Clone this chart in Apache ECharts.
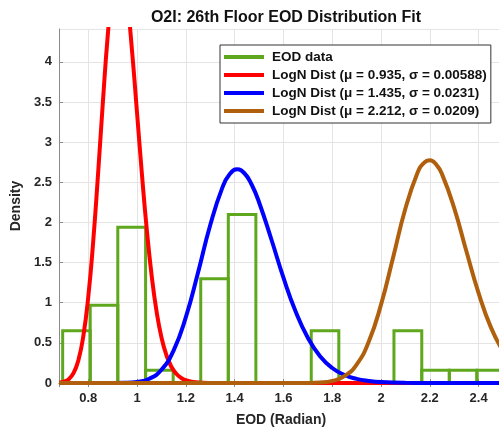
<!DOCTYPE html>
<html>
<head>
<meta charset="utf-8">
<script src="https://cdn.jsdelivr.net/npm/echarts@6/dist/echarts.min.js"></script>
<style>
  html, body { margin: 0; padding: 0; background: #fff; }
  #chart { width: 499px; height: 431px; }
</style>
</head>
<body>
<div id="chart"></div>
<script>
// histogram of EOD data (density), bins
const binEdges = [0.695, 0.808, 0.921, 1.035, 1.148, 1.261, 1.374, 1.487, 1.601, 1.714, 1.827, 1.940, 2.053, 2.167, 2.280, 2.393, 2.506];
const binDensity = [0.65, 0.97, 1.94, 0.16, 0, 1.30, 2.10, 0, 0, 0.65, 0, 0, 0.65, 0.16, 0.16, 0.16];

// fitted lognormal curves
const redX = [0.68, 0.70, 0.72, 0.74, 0.76, 0.78, 0.80, 0.82, 0.84, 0.86, 0.88, 0.90, 0.92, 0.94, 0.96, 0.98, 1.00, 1.02, 1.04, 1.06, 1.08, 1.10, 1.12, 1.14, 1.16, 1.18, 1.20, 1.24, 1.30, 1.40, 2.50];
const redY = [0.004, 0.016, 0.047, 0.125, 0.289, 0.590, 1.073, 1.754, 2.598, 3.504, 4.335, 4.946, 5.232, 5.154, 4.751, 4.115, 3.361, 2.598, 1.907, 1.333, 0.890, 0.569, 0.349, 0.206, 0.118, 0.065, 0.035, 0.009, 0.001, 0, 0];

const blueX = [0.68, 0.90, 0.95, 1.00, 1.05, 1.10, 1.15, 1.20, 1.25, 1.30, 1.35, 1.38, 1.41, 1.44, 1.47, 1.50, 1.55, 1.60, 1.65, 1.70, 1.75, 1.80, 1.85, 1.90, 1.95, 2.00, 2.10, 2.20, 2.50];
const blueY = [0, 0.0003, 0.002, 0.013, 0.053, 0.165, 0.407, 0.820, 1.377, 1.968, 2.437, 2.603, 2.662, 2.613, 2.470, 2.252, 1.794, 1.313, 0.890, 0.563, 0.334, 0.187, 0.100, 0.051, 0.025, 0.011, 0.002, 0.0004, 0];

const brownX = [0.68, 1.60, 1.70, 1.75, 1.80, 1.85, 1.90, 1.95, 2.00, 2.05, 2.10, 2.15, 2.175, 2.20, 2.225, 2.25, 2.30, 2.35, 2.40, 2.45, 2.50];
const brownY = [0, 0, 0.001, 0.006, 0.026, 0.085, 0.230, 0.517, 0.976, 1.570, 2.174, 2.621, 2.739, 2.774, 2.726, 2.602, 2.179, 1.641, 1.120, 0.696, 0.397];

const legendNames = ['EOD data', 'LogN Dist (μ = 0.935, σ = 0.00588)', 'LogN Dist (μ = 1.435, σ = 0.0231)', 'LogN Dist (μ = 2.212, σ = 0.0209)'];

const GREEN = '#5fa81e', RED = '#ff0000', BLUE = '#0000ff', BROWN = '#b0600c';
const FONT = '"Liberation Sans", Arial, sans-serif';
const TXT = '#262626';

const zip = (xs, ys) => xs.map((x, i) => [x, ys[i]]);
const histData = binDensity.map((d, i) => [binEdges[i], binEdges[i + 1], d]);

const chart = echarts.init(document.getElementById('chart'), null, {renderer: 'canvas'});

const option = {
  animation: false,
  backgroundColor: '#fff',
  title: {
    text: 'O2I: 26th Floor EOD Distribution Fit',
    left: 281, top: 5, textAlign: 'center',
    textStyle: {fontFamily: FONT, fontSize: 16, fontWeight: 'bold', color: '#111'}
  },
  legend: {
    orient: 'vertical', left: 220, top: 45,
    padding: [4, 4, 4, 4],
    itemWidth: 40, itemHeight: 4, itemGap: 2,
    icon: 'rect',
    backgroundColor: '#fff', borderColor: '#333', borderWidth: 1,
    textStyle: {fontFamily: FONT, fontSize: 13.5, fontWeight: 'bold', color: '#111', lineHeight: 16, padding: [0, 0, 0, 3]},
    data: legendNames
  },
  grid: {left: 59, top: 29, right: -4, bottom: 48, containLabel: false, outerBoundsMode: 'none'},
  xAxis: [{
    type: 'value', min: 0.68, max: 2.5, splitNumber: 9,
    name: 'EOD (Radian)', nameLocation: 'middle', nameGap: 30,
    nameTextStyle: {fontFamily: FONT, fontSize: 14, fontWeight: 'bold', color: TXT},
    axisLine: {show: true, onZero: false, lineStyle: {color: '#8a8a8a', width: 1}},
    axisTick: {show: true, inside: true, length: 4, lineStyle: {color: '#8a8a8a'}},
    axisLabel: {fontFamily: FONT, fontSize: 13, fontWeight: 'bold', color: TXT, margin: 9, showMinLabel: false, showMaxLabel: false},
    splitLine: {show: true, lineStyle: {color: '#e4e4e4', width: 1}}
  }, {
    type: 'value', position: 'top', min: 0.68, max: 2.5, splitNumber: 9,
    axisLine: {show: true, lineStyle: {color: '#8a8a8a', width: 1}},
    axisTick: {show: true, inside: true, length: 4, lineStyle: {color: '#8a8a8a'}},
    axisLabel: {show: false},
    splitLine: {show: false}
  }],
  yAxis: {
    type: 'value', min: 0, max: 4.41, interval: 0.5,
    name: 'Density', nameLocation: 'middle', nameGap: 30,
    nameTextStyle: {fontFamily: FONT, fontSize: 14, fontWeight: 'bold', color: TXT},
    axisLine: {show: true, lineStyle: {color: '#8a8a8a', width: 1}},
    axisTick: {show: true, inside: true, length: 4, lineStyle: {color: '#8a8a8a'}},
    axisLabel: {fontFamily: FONT, fontSize: 13, fontWeight: 'bold', color: TXT, margin: 7, showMaxLabel: false},
    splitLine: {show: true, lineStyle: {color: '#e4e4e4', width: 1}}
  },
  series: [
    {
      name: legendNames[0], type: 'custom', clip: true, color: GREEN,
      encode: {x: [0, 1], y: 2},
      renderItem: function (params, api) {
        const p0 = api.coord([api.value(0), 0]);
        const p1 = api.coord([api.value(1), api.value(2)]);
        return {
          type: 'rect',
          shape: {x: p0[0], y: p1[1], width: p1[0] - p0[0], height: p0[1] - p1[1]},
          style: {fill: null, stroke: GREEN, lineWidth: 3}
        };
      },
      data: histData
    },
    {name: legendNames[1], type: 'line', data: zip(redX, redY), color: RED, showSymbol: false, smooth: true, lineStyle: {width: 4, color: RED}},
    {name: legendNames[2], type: 'line', data: zip(blueX, blueY), color: BLUE, showSymbol: false, smooth: true, lineStyle: {width: 4, color: BLUE}},
    {name: legendNames[3], type: 'line', data: zip(brownX, brownY), color: BROWN, showSymbol: false, smooth: true, lineStyle: {width: 4, color: BROWN}}
  ]
};

chart.setOption(option);
</script>
</body>
</html>
